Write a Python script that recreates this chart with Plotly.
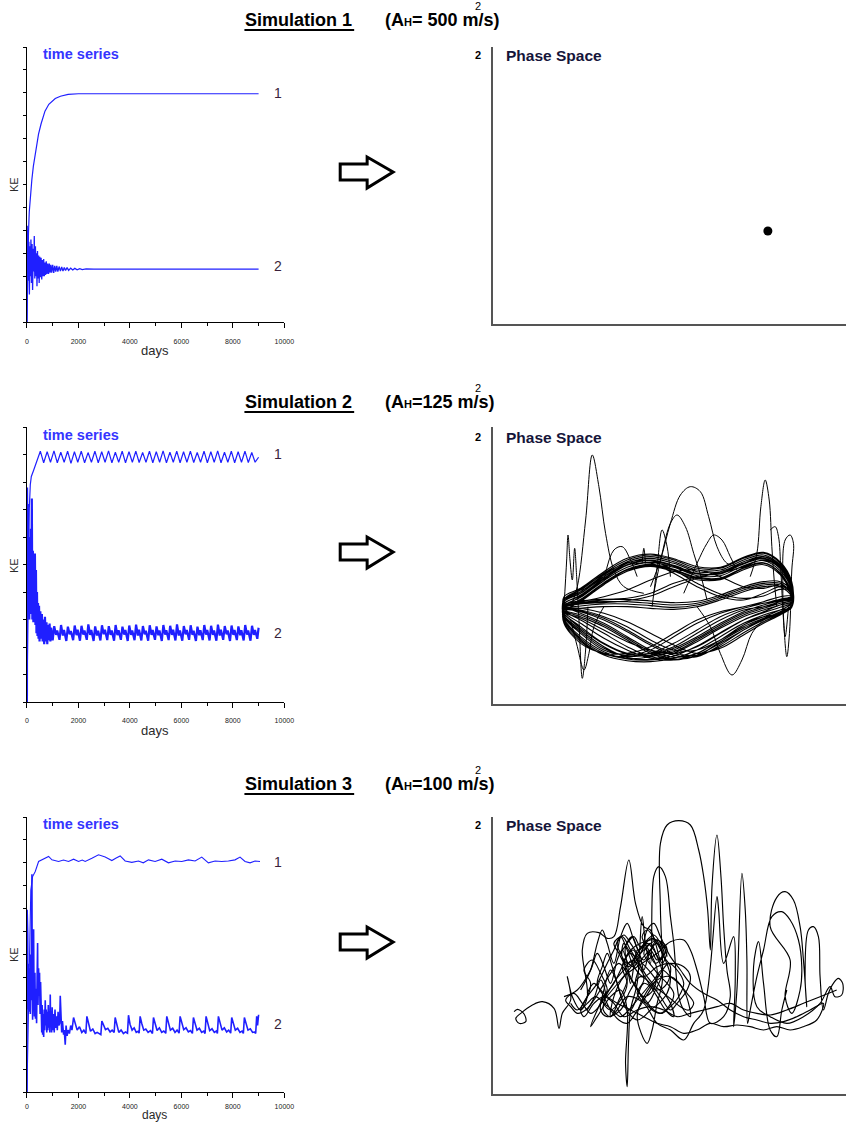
import plotly.graph_objects as go

W, H = 849, 1124          # window size (positions below are in window pixels)
FIG_W = 859                # rendered figure width (the photograph maps it onto the 849-px window)
FONT = "Liberation Sans, Arial, sans-serif"
BLUE = "#1f1fff"

# ---------------- Simulation 1 : time series (KE units) ----------------
s1_days_a = [0, 20, 40, 60, 90, 130, 190, 250, 320, 400, 450, 550, 700, 850, 1000, 1100, 1300, 1600, 2000, 9000]
s1_ke_a = [0, 1.7, 3.0, 3.9, 4.8, 5.5, 6.2, 6.8, 7.35, 7.85, 8.2, 8.65, 9.2, 9.5, 9.65, 9.75, 9.85, 9.93, 9.96, 9.96]
s1_days_b = [0, 10, 25, 40, 55, 75, 95, 115, 135, 155, 175, 200, 220, 245, 265, 285, 305, 330, 350, 370, 390,
             410, 430, 455, 475, 500, 525, 550, 575, 600, 625, 650, 675, 700, 725, 750, 780, 810, 840, 870, 900,
             930, 960, 1000, 1040, 1080, 1120, 1160, 1200, 1250, 1300, 1350, 1400, 1450, 1500, 1560, 1620, 1700,
             1780, 1860, 1950, 2050, 2150, 2300, 2450, 2600, 2800, 9000]
s1_ke_b = [0, 4.2, 2.6, 4.0, 1.8, 3.5, 1.2, 3.3, 2.0, 3.6, 1.7, 3.4, 1.4, 3.2, 2.2, 3.75, 1.9, 3.3, 2.0, 3.0, 1.56,
           3.1, 1.9, 2.9, 1.7, 2.85, 1.95, 2.8, 1.85, 2.7, 2.0, 2.75, 2.0, 2.6, 2.05, 2.65, 2.1, 2.55, 2.1, 2.55, 2.15,
           2.5, 2.15, 2.5, 2.14, 2.45, 2.2, 2.45, 2.2, 2.42, 2.22, 2.4, 2.22, 2.38, 2.25, 2.37, 2.25, 2.35,
           2.27, 2.34, 2.28, 2.33, 2.29, 2.32, 2.3, 2.31, 2.31, 2.31]

# ---------------- Simulation 2 : time series ----------------
s2_days_a = [0, 30, 60, 90, 130, 170, 250, 350, 450,
             520, 650, 785, 915, 1050, 1180, 1315, 1445, 1580, 1710, 1845, 1975, 2110, 2240, 2375, 2505, 2640, 2770,
             2905, 3035, 3170, 3300, 3435, 3565, 3700, 3830, 3965, 4095, 4230, 4360, 4495, 4625, 4760, 4890, 5025,
             5155, 5290, 5420, 5555, 5685, 5820, 5950, 6085, 6215, 6350, 6480, 6615, 6745, 6880, 7010, 7145, 7275,
             7410, 7540, 7675, 7805, 7940, 8070, 8205, 8335, 8470, 8600, 8735, 8865, 9000]
s2_ke_a = [0, 2.5, 5.0, 7.0, 7.9, 8.2, 8.4, 8.7, 8.95,
           9.12, 8.7, 9.1, 8.72, 9.13, 8.7, 9.08, 8.72, 9.12, 8.68, 9.1, 8.72, 9.12, 8.7, 9.07, 8.72, 9.12, 8.7,
           9.1, 8.72, 9.13, 8.7, 9.08, 8.72, 9.12, 8.7, 9.1, 8.72, 9.12, 8.71, 9.07, 8.72, 9.12, 8.7, 9.1,
           8.72, 9.13, 8.7, 9.08, 8.72, 9.12, 8.7, 9.1, 8.72, 9.12, 8.71, 9.07, 8.72, 9.12, 8.7, 9.1, 8.72,
           9.13, 8.7, 9.08, 8.72, 9.12, 8.7, 9.1, 8.72, 9.12, 8.71, 9.07, 8.72, 8.9]
s2_days_b = [0, 5, 20, 35, 50, 70, 90, 110, 130, 150, 170, 190, 210, 230, 250, 270, 290, 310, 330, 350, 370, 390,
             410, 430, 450, 470, 490, 520, 550, 580, 610, 640, 670, 700, 730, 760, 790, 820, 850, 880, 910, 940, 970,
             1000, 1060, 1130, 1175, 1265, 1325, 1395, 1440, 1530, 1590, 1660, 1705, 1795, 1855, 1925, 1970,
             2060, 2120, 2190, 2235, 2325, 2385, 2455, 2500, 2590, 2650, 2720, 2765, 2855, 2915, 2985, 3030,
             3120, 3180, 3250, 3295, 3385, 3445, 3515, 3560, 3650, 3710, 3780, 3825, 3915, 3975, 4045, 4090,
             4180, 4240, 4310, 4355, 4445, 4505, 4575, 4620, 4710, 4770, 4840, 4885, 4975, 5035, 5105, 5150,
             5240, 5300, 5370, 5415, 5505, 5565, 5635, 5680, 5770, 5830, 5900, 5945, 6035, 6095, 6165, 6210,
             6300, 6360, 6430, 6475, 6565, 6625, 6695, 6740, 6830, 6890, 6960, 7005, 7095, 7155, 7225, 7270,
             7360, 7420, 7490, 7535, 7625, 7685, 7755, 7800, 7890, 7950, 8020, 8065, 8155, 8215, 8285, 8330,
             8420, 8480, 8550, 8595, 8685, 8745, 8815, 8860, 8950, 9000]
s2_ke_b = [0, 7.8, 4.0, 7.2, 3.4, 6.0, 3.0, 5.0, 3.2, 6.3, 3.5, 7.4, 3.0, 5.5, 2.9, 4.6, 3.0, 5.4, 2.8, 4.8, 2.5, 4.0,
           2.4, 3.6, 2.3, 3.5, 2.2, 3.3, 2.3, 3.2, 2.2, 3.0, 2.1, 3.1, 2.2, 2.9, 2.1, 2.8, 2.25, 2.85, 2.2, 2.7, 2.3,
           2.24, 2.76, 2.44, 2.6, 2.26, 2.8, 2.42, 2.62, 2.22, 2.74, 2.46, 2.58, 2.25, 2.78, 2.43, 2.63,
           2.23, 2.77, 2.45, 2.6, 2.26, 2.82, 2.44, 2.62, 2.22, 2.75, 2.42, 2.59, 2.24, 2.79, 2.46, 2.63,
           2.25, 2.76, 2.44, 2.6, 2.23, 2.8, 2.43, 2.61, 2.26, 2.74, 2.45, 2.62, 2.22, 2.78, 2.44, 2.6,
           2.25, 2.81, 2.42, 2.63, 2.24, 2.76, 2.46, 2.59, 2.23, 2.79, 2.44, 2.62, 2.26, 2.75, 2.43, 2.6,
           2.22, 2.8, 2.45, 2.61, 2.25, 2.77, 2.44, 2.63, 2.24, 2.82, 2.42, 2.6, 2.23, 2.76, 2.46, 2.62,
           2.26, 2.79, 2.44, 2.59, 2.22, 2.74, 2.43, 2.61, 2.25, 2.8, 2.45, 2.62, 2.24, 2.77, 2.44, 2.6,
           2.23, 2.81, 2.42, 2.63, 2.26, 2.76, 2.46, 2.6, 2.22, 2.78, 2.44, 2.62, 2.25, 2.75, 2.43, 2.61,
           2.24, 2.8, 2.45, 2.6, 2.23, 2.77, 2.44, 2.62, 2.3, 2.7]

# ---------------- Simulation 3 : time series ----------------
s3_days_a = [0, 60, 100, 150, 220, 323, 453, 600, 720, 841, 970, 1100, 1229, 1420, 1617, 1811, 2005, 2150, 2264,
             2523, 2781, 3040, 3299, 3450, 3622, 3816, 4075, 4334, 4520, 4722, 4981, 5239, 5498, 5757, 6016, 6274,
             6533, 6792, 7050, 7309, 7568, 7826, 8085, 8279, 8473, 8668, 8862, 9056]
s3_ke_a = [0, 4.0, 7.0, 8.8, 9.4, 9.62, 10.06, 10.15, 10.2, 10.28, 10.13, 10.1, 10.06, 10.12, 10.06, 10.16, 10.06,
           10.12, 10.06, 10.2, 10.35, 10.25, 10.1, 10.2, 10.3, 10.08, 10.02, 10.08, 10.0, 10.13, 10.06, 10.16, 10.0,
           10.08, 10.06, 10.13, 10.08, 10.25, 10.0, 10.08, 10.06, 10.08, 10.13, 10.25, 10.06, 10.0, 10.08, 10.06]
s3_days_b = [0, 8, 20, 30, 40, 55, 70, 85, 100, 115, 130, 150, 165, 180, 194, 205, 220, 240, 259, 275, 290, 310, 330,
             350, 375, 395, 414, 430, 453, 470, 490, 510, 530, 556, 575, 590, 610, 630, 650, 670, 690, 711, 730, 750,
             770, 790, 810, 830, 850, 870, 890, 906, 920, 940, 960, 980, 1000, 1030, 1060, 1090, 1120, 1150, 1180,
             1210, 1240, 1270, 1294, 1320, 1350, 1380, 1423, 1450, 1488, 1520, 1560, 1600, 1650, 1700, 1750,
             1811, 1871, 1951, 2041, 2131, 2211, 2289,
             2329, 2389, 2469, 2559, 2649, 2729, 2871,
             2911, 2971, 3051, 3141, 3231, 3311, 3388,
             3428, 3488, 3568, 3658, 3748, 3828, 3906,
             3946, 4006, 4086, 4166, 4246, 4316, 4358,
             4398, 4458, 4538, 4618, 4708, 4798, 4876,
             4916, 4976, 5056, 5146, 5236, 5316, 5393,
             5433, 5493, 5573, 5663, 5753, 5833, 5911,
             5951, 6011, 6091, 6181, 6271, 6351, 6428,
             6468, 6528, 6608, 6698, 6788, 6868, 6920,
             6960, 7020, 7100, 7190, 7280, 7360, 7399,
             7439, 7499, 7579, 7669, 7759, 7839, 7916,
             7956, 8016, 8096, 8186, 8276, 8356, 8408,
             8448, 8508, 8588, 8678, 8768, 8848, 8886,
             8926, 8960, 9000]
s3_ke_b = [0, 7.95, 4.4, 6.9, 3.6, 5.6, 3.8, 5.4, 3.5, 5.0, 3.4, 6.0, 4.0, 9.0, 9.5, 4.5, 3.15, 5.9, 7.1, 4.0, 3.3,
           5.2, 3.2, 4.5, 3.0, 5.0, 6.5, 3.8, 5.4, 4.2, 5.2, 3.4, 4.8, 3.6, 2.6, 3.8, 2.5, 3.4, 2.4, 3.6, 2.7, 4.0,
           2.9, 3.6, 2.6, 3.5, 2.7, 3.8, 2.8, 3.3, 2.6, 4.25, 2.9, 3.5, 2.6, 3.7, 2.7, 3.4, 2.6, 3.6, 2.8, 3.3, 2.7,
           3.5, 2.9, 3.0, 4.2, 3.0, 2.6, 3.1, 2.5, 2.7, 2.06, 2.9, 2.45, 2.7, 2.55, 2.9, 2.7,
           3.25, 3.05, 2.7, 2.85, 2.6, 2.7, 2.55,
           3.3, 3.0, 2.65, 2.75, 2.55, 2.6, 2.5,
           3.1, 2.9, 2.72, 2.78, 2.62, 2.7, 2.6,
           3.25, 3.0, 2.6, 2.7, 2.55, 2.62, 2.57,
           3.35, 2.95, 2.7, 2.8, 2.6, 2.65, 2.57,
           3.3, 3.0, 2.7, 2.75, 2.6, 2.68, 2.55,
           3.25, 2.98, 2.68, 2.8, 2.6, 2.66, 2.56,
           3.3, 3.0, 2.7, 2.78, 2.6, 2.7, 2.57,
           3.3, 3.02, 2.72, 2.8, 2.62, 2.68, 2.56,
           3.25, 2.98, 2.7, 2.78, 2.6, 2.66, 2.55,
           3.3, 3.0, 2.68, 2.76, 2.6, 2.66, 2.56,
           3.3, 3.02, 2.7, 2.8, 2.62, 2.7, 2.57,
           3.25, 3.0, 2.7, 2.78, 2.6, 2.66, 2.56,
           3.25, 3.0, 2.7, 2.76, 2.6, 2.62, 2.55,
           3.3, 2.9, 3.37]

x_major_vals = [0, 2000, 4000, 6000, 8000, 10000]
x_major_text = ["0", "2000", "4000", "6000", "8000", "10000"]

# ---------------- Phase space (KE1 vs KE2, arbitrary units) ----------------
ps1_x = [893]
ps1_y = [327]

ps2_station_x = [280, 330, 400, 470, 540, 610, 680, 750, 820, 880, 930, 965]
# upper ribbon
ps2_u1 = [365, 390, 440, 480, 495, 480, 455, 455, 485, 500, 470, 410]
ps2_u2 = [355, 380, 430, 470, 485, 470, 445, 445, 475, 490, 460, 400]
ps2_u3 = [343, 368, 418, 458, 473, 458, 433, 433, 463, 478, 448, 388]
ps2_u4 = [331, 356, 406, 446, 461, 446, 421, 421, 451, 466, 436, 376]
ps2_u5 = [350, 372, 422, 464, 480, 464, 440, 438, 468, 484, 454, 394]
ps2_u6 = [360, 385, 435, 475, 490, 475, 450, 450, 480, 495, 465, 405]
ps2_u7 = [348, 375, 425, 466, 478, 461, 438, 441, 470, 486, 456, 396]
ps2_u8 = [338, 362, 412, 452, 467, 452, 428, 426, 457, 472, 442, 382]
ps2_u9 = [370, 395, 445, 485, 498, 484, 460, 458, 488, 503, 474, 414]
ps2_u10 = [335, 360, 410, 450, 464, 450, 425, 424, 455, 470, 440, 380]
# crossing / twisted lines
ps2_x1 = [340, 352, 360, 365, 380, 410, 430, 440, 460, 480, 455, 400]
ps2_x2 = [355, 385, 430, 465, 470, 440, 400, 370, 360, 380, 400, 390]
ps2_x3 = [345, 355, 370, 390, 420, 445, 450, 430, 400, 395, 405, 385]
ps2_x4 = [335, 348, 352, 358, 372, 400, 425, 445, 470, 490, 462, 405]
ps2_x5 = [362, 392, 438, 472, 478, 450, 410, 378, 365, 372, 392, 388]
# middle band
ps2_m1 = [340, 350, 355, 355, 350, 345, 350, 370, 395, 410, 410, 380]
ps2_m2 = [325, 335, 340, 340, 335, 332, 340, 360, 385, 400, 400, 370]
ps2_m3 = [332, 342, 348, 348, 343, 338, 345, 365, 390, 405, 405, 375]
ps2_m4 = [345, 357, 362, 362, 357, 352, 356, 375, 400, 415, 415, 385]
# lower cross-hatched bowl
ps2_c1 = [330, 300, 260, 220, 190, 185, 210, 250, 290, 315, 330, 340]
ps2_c2 = [300, 240, 195, 178, 175, 185, 210, 250, 290, 310, 320, 340]
ps2_c3 = [320, 280, 230, 200, 200, 220, 260, 300, 330, 340, 350, 360]
ps2_c4 = [340, 320, 290, 250, 210, 188, 200, 240, 285, 310, 330, 350]
ps2_c5 = [310, 260, 210, 195, 210, 250, 290, 320, 340, 350, 360, 370]
ps2_c6 = [335, 330, 310, 280, 240, 210, 210, 240, 280, 305, 325, 345]
ps2_c7 = [290, 230, 200, 200, 220, 260, 300, 325, 340, 355, 370, 375]
ps2_c8 = [325, 305, 270, 235, 210, 200, 220, 260, 300, 325, 345, 355]
ps2_c9 = [315, 270, 220, 188, 182, 200, 235, 275, 310, 330, 345, 355]
ps2_c10 = [330, 310, 280, 240, 200, 180, 195, 230, 270, 300, 320, 340]
ps2_c11 = [325, 290, 245, 210, 185, 180, 200, 240, 280, 305, 325, 345]
ps2_c12 = [305, 250, 205, 185, 190, 210, 245, 285, 320, 340, 355, 365]
ps2_c13 = [335, 325, 300, 265, 225, 195, 190, 225, 270, 300, 320, 340]
ps2_c14 = [295, 235, 198, 190, 200, 230, 270, 310, 335, 350, 362, 372]
ps2_c15 = [340, 335, 320, 295, 260, 225, 200, 215, 255, 290, 315, 338]
ps2_c16 = [312, 265, 215, 192, 195, 215, 250, 290, 325, 345, 358, 368]
ps2_c17 = [330, 315, 285, 245, 205, 183, 192, 235, 275, 302, 322, 342]
ps2_c18 = [300, 245, 200, 183, 180, 192, 222, 262, 300, 322, 338, 352]
ps2_c19 = [338, 328, 305, 270, 230, 200, 195, 220, 262, 295, 318, 340]
ps2_c20 = [318, 275, 228, 198, 192, 205, 240, 280, 315, 335, 350, 362]

ps2_wild_x = [300, 320, 345, 365, 385, 405, 430, 460, 520, None,
              280, 288, 292, 298, 305, 312, 318, 325, 335, 345, 352, None,
              540, 570, 600, 630, 660, 690, 715, 740, 770, 800, None,
              550, 575, 600, 620, 645, 670, 695, 710, None,
              640, 680, 710, 730, 755, 780, 800, None,
              840, 860, 872, 885, 897, 905, 912, 920, None,
              680, 720, 750, 785, 815, 845, 880, None,
              900, 915, 925, 932, 940, 950, 958, 965, 970, 960, 945, 938, 945, 955, None,
              300, 320, 340, 355, 370, 400, None,
              400, 430, 455, 480, 500, None,
              515, 520, 525, None,
              545, 560, 575, 590, 600]
ps2_wild_y = [340, 400, 600, 795, 700, 560, 450, 400, 380, None,
              340, 480, 555, 480, 420, 515, 430, 300, 125, 210, 340, None,
              400, 480, 590, 675, 700, 685, 610, 520, 470, 460, None,
              380, 500, 590, 615, 580, 500, 420, 360, None,
              380, 470, 530, 555, 540, 490, 450, None,
              430, 500, 640, 720, 660, 520, 420, 340, None,
              340, 280, 200, 135, 180, 260, 300, None,
              570, 580, 550, 450, 300, 190, 260, 450, 530, 555, 540, 400, 250, 340, None,
              300, 220, 150, 200, 280, 340, None,
              420, 510, 520, 480, 430, None,
              470, 515, 470, None,
              340, 460, 570, 520, 430]

ps3_x = [130, 140, 160, 165, 145, 135, 150, 185, 215, 250, 265, 275, 300, 290, 305, 330, 350, 335, 350, 385,
         410, 430, 450, 475, 495, 520, 540, 555, 575, 590, 580, 540, 480, 455, 430, 400, 380, 360, 380, 420,
         450, 470, 465, 470, 474, 480, 500, 515, 525, 540, 550, 565, 585, 600, 610, 625, 640, 660, 640, 600,
         560, 520, 500, 530, 545, 560, 575, 570, 570, 590, 625, 660, 685, 700, 712, 720, 725, 740, 752, 760,
         770, 780, 760, 720, 700, 680, 660, 640, 600, 560, 500, 460, 430, 420, 440, 470, 520, 560, 600, 640,
         670, 700, 740, 745, 760, 790, 795, 790, 800, 815, 825, 830, 832, 840, 860, 880, 905, 935, 960, 985,
         995, 990, 965, 945, 960, 900, 920, 945, 970, 990, 1000, 1010, 1005, 1015, 1030, 1045, 1050, 1060,
         1075, 1090, 1105, 1118, 1115, 1095, 1080, 1050, 1000, 950, 900, 860, 850, 865, 880, 900, 920, 935, 950]
ps3_y = [295, 302, 288, 265, 260, 275, 290, 315, 325, 305, 245, 290, 330, 400, 340, 300, 340, 480, 530, 532,
         515, 520, 610, 750, 620, 550, 540, 500, 440, 480, 500, 510, 480, 430, 380, 340, 300, 250, 280, 340,
         360, 300, 140, 70, 200, 300, 380, 580, 500, 440, 700, 730, 700, 580, 500, 340, 300, 280, 360, 400,
         390, 340, 280, 200, 240, 320, 380, 600, 800, 855, 868, 855, 780, 700, 600, 480, 670, 825, 700, 550,
         420, 340, 280, 260, 340, 420, 480, 510, 505, 470, 430, 400, 340, 280, 300, 340, 320, 260, 240, 210,
         260, 300, 640, 600, 440, 520, 400, 250, 360, 710, 600, 450, 260, 300, 400, 480, 580, 595, 570, 510,
         430, 360, 290, 340, 450, 550, 638, 655, 630, 550, 450, 310, 400, 540, 550, 520, 400, 300,
         350, 380, 395, 380, 345, 340, 370, 320, 280, 260, 280, 310, 430, 505, 380, 240, 220, 300, 360]
ps3_core_x = [280, 320, 360, 380, 400, 420, 440, 455, 470, 480, 500, 510, 520, 540, 560, 580, 600, 590, 560, 520,
              500, 480, 460, 440, 420, 400, 390, 410, 450, 480, 510, 540, 570, 600, 620, 650, 660, 640, 600, 560,
              520, 490, 470, 450, 430, 410, 380, 350, 330, 340, 370, 400, 430, 460, 500, 540, 580, 620, 660, 700,
              740, 780, 820, 860, 900, 950, 1000, 1050, 1100]
ps3_core_y = [340, 360, 420, 470, 430, 380, 450, 480, 440, 380, 480, 460, 420, 480, 500, 460, 430, 380, 360, 380,
              340, 300, 320, 380, 420, 360, 300, 280, 300, 360, 400, 380, 340, 300, 320, 360, 400, 430, 440, 430,
              400, 430, 480, 520, 480, 440, 380, 340, 300, 280, 320, 340, 320, 280, 300, 310, 300, 280, 290, 300,
              310, 320, 300, 290, 285, 300, 320, 340, 360]
ps3_core2_x = [350, 372, 390, 405, 398, 420, 445, 470, 462, 488, 505, 495, 520, 548, 560, 540, 515, 530, 560, 585,
               600, 590, 565, 540, 520, 500, 475, 455, 440, 425, 410, 395, 380, 400, 420, 445, 470, 495, 520, 545,
               570, 595, 620, 640, 625, 600, 575, 550, 525, 500, 480, 460, 445, 430, 455, 480, 505, 530, 555, 580,
               605, 630, 655, 670, 650, 625, 600, 575, 550, 525, 500, 475, 450, 425, 400, 375, 350, 330]
ps3_core2_y = [300, 340, 390, 350, 300, 280, 330, 390, 450, 480, 430, 380, 340, 360, 420, 470, 520, 540, 500, 450,
               400, 350, 320, 300, 280, 270, 290, 330, 380, 430, 470, 430, 380, 340, 300, 270, 260, 290, 330, 370,
               410, 440, 420, 380, 340, 310, 290, 300, 330, 360, 400, 440, 470, 500, 520, 480, 440, 400, 370, 350,
               330, 310, 300, 320, 350, 380, 400, 420, 390, 360, 330, 300, 280, 300, 320, 340, 320, 300]
ps3_core3_x = [330, 360, 380, 395, 410, 430, 450, 470, 490, 510, 530, 550, 570, 600, 630, 660, 700, 740, 780, 820,
               860, 900, 940, 980, 1020, 1060, 1040, 1000, 960, 920, 880, 840, 800, 760, 720, 680, 640, 600, 560,
               520, 480, 440, 410, 390, 370, 350]
ps3_core3_y = [360, 420, 500, 540, 500, 440, 520, 560, 510, 470, 540, 560, 520, 460, 420, 380, 350, 330, 300, 280,
               270, 260, 265, 280, 300, 320, 270, 250, 240, 250, 240, 250, 255, 250, 260, 240, 230, 250, 260,
               280, 300, 320, 340, 360, 380, 350]
ps3_core4_x = [300, 320, 345, 360, 340, 365, 390, 410, 395, 420, 450, 470, 455, 480, 505, 520, 500, 530, 555, 575,
               560, 540, 520, 545, 570, 590, 610, 595, 570, 545, 520, 495, 470, 445, 420, 395, 370, 345, 320, 300,
               285, 310, 335, 360, 385, 410, 435, 460, 485, 510, 535, 560, 585, 610, 600, 575, 550, 525, 500, 475,
               450, 425, 400]
ps3_core4_y = [320, 300, 330, 380, 420, 450, 410, 360, 330, 300, 330, 380, 430, 470, 440, 390, 350, 320, 360, 410,
               460, 500, 470, 430, 400, 380, 350, 310, 290, 300, 330, 370, 410, 440, 410, 370, 330, 300, 290, 310,
               330, 350, 320, 290, 310, 350, 390, 420, 450, 420, 380, 340, 300, 280, 320, 360, 400, 430, 450, 420,
               390, 360, 330]
ps3_core5_x = [450, 470, 490, 510, 530, 550, 570, 580, 560, 540, 520, 500, 480, 460, 455, 475, 495, 515, 535, 555,
               575, 565, 545, 525, 505, 485, 465, 470, 490, 510, 530, 550, 570, 585, 560, 530, 500, 470, 450, 440,
               460, 480, 500, 520, 540, 560, 580, 590]
ps3_core5_y = [470, 500, 520, 490, 510, 525, 500, 470, 450, 480, 460, 440, 470, 500, 455, 430, 460, 490, 470, 440,
               460, 500, 515, 500, 480, 520, 490, 445, 430, 470, 500, 480, 450, 480, 510, 490, 460, 440, 470, 500,
               525, 500, 470, 450, 480, 510, 490, 460]


def px(x):
    return x / W


def py(y):
    return 1 - y / H


fig = go.Figure()

# --- time-series traces ---
left_axes = [("x", "y"), ("x2", "y2"), ("x3", "y3")]
series = [
    (s1_days_a, s1_ke_a, 1.2), (s1_days_b, s1_ke_b, 1.3),
    (s2_days_a, s2_ke_a, 1.2), (s2_days_b, s2_ke_b, 2.2),
    (s3_days_a, s3_ke_a, 1.1), (s3_days_b, s3_ke_b, 1.6),
]
for i, (dx, dy, lw) in enumerate(series):
    xa, ya = left_axes[i // 2]
    fig.add_trace(go.Scatter(x=dx, y=dy, mode="lines", line=dict(color=BLUE, width=lw),
                             xaxis=xa, yaxis=ya, hoverinfo="skip"))

# --- phase space 1 ---
fig.add_trace(go.Scatter(x=ps1_x, y=ps1_y, mode="markers", marker=dict(color="black", size=9),
                         xaxis="x4", yaxis="y4"))

# --- phase space 2 : mesh orbits ---
order = [ps2_u1, ps2_c1, ps2_u2, ps2_c2, ps2_x1, ps2_c3, ps2_u3, ps2_c4, ps2_m1, ps2_c5,
         ps2_x2, ps2_c6, ps2_u4, ps2_c7, ps2_m2, ps2_c8, ps2_u5, ps2_c9, ps2_x3, ps2_c10,
         ps2_u6, ps2_c11, ps2_u7, ps2_c12, ps2_x4, ps2_c13, ps2_u8, ps2_c14, ps2_m3, ps2_c15,
         ps2_u9, ps2_c16, ps2_x5, ps2_c17, ps2_u10, ps2_c18, ps2_m4, ps2_c19, ps2_u2, ps2_c20]
mx, my = [], []
for k, line in enumerate(order):
    if k % 2 == 0:
        mx += ps2_station_x
        my += line
    else:
        mx += ps2_station_x[::-1]
        my += line[::-1]
fig.add_trace(go.Scatter(x=mx, y=my, mode="lines", line=dict(color="black", width=1.1, shape="spline", smoothing=1.0),
                         xaxis="x5", yaxis="y5"))
fig.add_trace(go.Scatter(x=ps2_wild_x, y=ps2_wild_y, mode="lines",
                         line=dict(color="black", width=1, shape="spline", smoothing=1.0),
                         xaxis="x5", yaxis="y5"))

# --- phase space 3 ---
for tx, ty in [(ps3_x, ps3_y), (ps3_core_x, ps3_core_y), (ps3_core2_x, ps3_core2_y),
               (ps3_core3_x, ps3_core3_y), (ps3_core4_x, ps3_core4_y), (ps3_core5_x, ps3_core5_y)]:
    fig.add_trace(go.Scatter(x=tx, y=ty, mode="lines", line=dict(color="black", width=1.15, shape="spline", smoothing=1.0),
                             xaxis="x6", yaxis="y6"))

# --- axes ---
left_tops = [(47, 322, 12, 8), (427, 702, 10, 7), (817, 1092, 12, 3)]
right_tops = [(47, 324), (427, 704), (817, 1094)]
layout = {}
for i, (t, b, ymax, standoff) in enumerate(left_tops):
    n = "" if i == 0 else str(i + 1)
    layout["xaxis" + n] = dict(domain=[px(25), px(283)], anchor="y" + n, range=[0, 10000],
                               showline=True, linecolor="black", linewidth=1, showgrid=False, zeroline=False,
                               tickmode="array", tickvals=x_major_vals, ticktext=x_major_text,
                               ticks="outside", ticklen=5, tickcolor="black", tickwidth=1,
                               minor=dict(dtick=1000, tick0=0, ticks="outside", ticklen=3, tickcolor="black",
                                          showgrid=False),
                               tickfont=dict(family=FONT, size=7, color="#222"), ticklabelstandoff=standoff)
    layout["yaxis" + n] = dict(domain=[py(b), py(t)], anchor="x" + n, range=[0, ymax],
                               showline=True, linecolor="black", linewidth=1, showgrid=False, zeroline=False,
                               dtick=1, tick0=0, ticks="outside", ticklen=3, tickcolor="black",
                               showticklabels=False)
for i, (t, b) in enumerate(right_tops):
    n = str(i + 4)
    layout["xaxis" + n] = dict(domain=[px(492), px(846)], anchor="y" + n, range=[66, 1128],
                               showline=True, linecolor="#555", linewidth=2, showgrid=False, zeroline=False,
                               showticklabels=False, ticks="")
    layout["yaxis" + n] = dict(domain=[py(b), py(t)], anchor="x" + n, range=[48, 879],
                               showline=True, linecolor="#555", linewidth=2, showgrid=False, zeroline=False,
                               showticklabels=False, ticks="")
fig.update_layout(**layout)

# --- text ---
ann = []


def text(t, x, y, size, color="black", xanchor="center", angle=0):
    ann.append(dict(text=t, x=px(x), y=py(y), xref="paper", yref="paper", showarrow=False,
                    xanchor=xanchor, yanchor="middle", textangle=angle, borderpad=0,
                    font=dict(family=FONT, size=size, color=color)))


sim_titles = ["Simulation 1", "Simulation 2", "Simulation 3"]
ah_texts = ["(A<span style='font-size:11px'>H</span>= 500 m/s)",
            "(A<span style='font-size:11px'>H</span>=125 m/s)",
            "(A<span style='font-size:11px'>H</span>=100 m/s)"]
title_y = [20, 402, 784]
shapes = []
for i in range(3):
    ty = title_y[i]
    text("<b>" + sim_titles[i] + "</b>", 297, ty, 18)
    text("<b>" + ah_texts[i] + "</b>", 383, ty, 18, xanchor="left")
    text("2", 477, ty - 14, 11)
    shapes.append(dict(type="line", xref="paper", yref="paper", x0=px(243), x1=px(353),
                       y0=py(ty + 10), y1=py(ty + 10), line=dict(color="black", width=2)))

ts_y = [54, 435, 824]
one_y = [93, 454, 862]
two_y = [266, 633, 1024]
ke_y = [184, 565, 954]
days_y = [351, 730, 1115]
phase_y = [55, 437, 825]
arrow_off = [0, 380, 770]
for i in range(3):
    text("<b>time series</b>", 40, ts_y[i], 14.5, color="#3535ff", xanchor="left")
    text("1", 277, one_y[i], 14, color="#3a1f3a")
    text("2", 277, two_y[i], 14, color="#3a1f3a")
    text("KE", 12, ke_y[i], 11, color="#2a2a2a", angle=-90)
    text("days", 153, days_y[i], 13 if i < 2 else 12, color="#2a2a2a")
    text("<b>2</b>", 477, phase_y[i], 11)
    text("<b>Phase Space</b>", 504, phase_y[i], 15.5, color="#15153a", xanchor="left")
    o = arrow_off[i]
    pts = [(339, 164), (366, 164), (366, 157), (392, 172), (366, 188), (366, 180), (339, 180)]
    path = "M " + " L ".join(f"{px(a):.5f},{py(b + o):.5f}" for a, b in pts) + " Z"
    shapes.append(dict(type="path", xref="paper", yref="paper", path=path,
                       line=dict(color="black", width=3), fillcolor="white"))

fig.update_layout(annotations=ann, shapes=shapes, width=FIG_W, height=H, showlegend=False, autosize=False,
                  margin=dict(l=0, r=0, t=0, b=0), plot_bgcolor="white", paper_bgcolor="white",
                  font=dict(family=FONT))
fig.write_html("out.html", config={"responsive": False})
